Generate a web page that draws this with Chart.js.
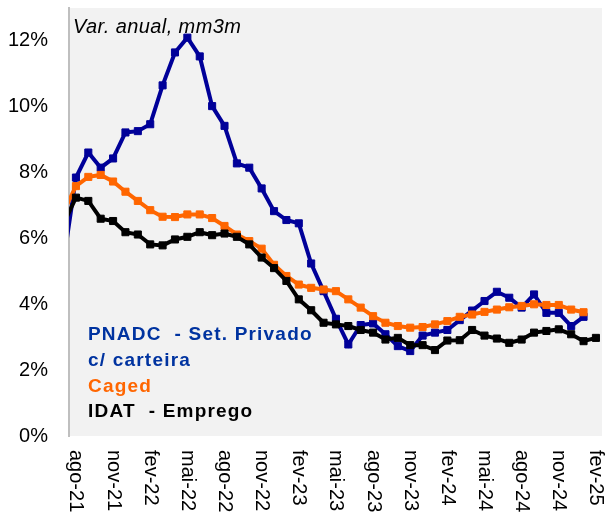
<!DOCTYPE html>
<html><head><meta charset="utf-8">
<script src="https://cdn.jsdelivr.net/npm/chart.js@4/dist/chart.umd.min.js"></script>
<style>html,body{margin:0;padding:0;background:#fff}#wrap{width:608px;height:513px;position:relative}</style>
</head><body><div id="wrap"><canvas id="c" width="608" height="513"></canvas></div>
<script>
// Months (index 0 = jul-21, partly outside the plot, as in the reference)
const months = ['jul-21','ago-21','set-21','out-21','nov-21','dez-21','jan-22','fev-22','mar-22','abr-22','mai-22','jun-22','jul-22','ago-22','set-22','out-22','nov-22','dez-22','jan-23','fev-23','mar-23','abr-23','mai-23','jun-23','jul-23','ago-23','set-23','out-23','nov-23','dez-23','jan-24','fev-24','mar-24','abr-24','mai-24','jun-24','jul-24','ago-24','set-24','out-24','nov-24','dez-24','jan-25','fev-25'];
const tickLabels = ['ago-21','nov-21','fev-22','mai-22','ago-22','nov-22','fev-23','mai-23','ago-23','nov-23','fev-24','mai-24','ago-24','nov-24','fev-25'];
const yTicks = [0,2,4,6,8,10,12];

const pnadc = [5.3,7.85,8.61,8.15,8.43,9.22,9.26,9.47,10.65,11.65,12.1,11.53,10.02,9.42,8.28,8.15,7.52,6.83,6.56,6.46,5.24,4.40,3.56,2.78,3.37,3.42,3.09,2.73,2.58,3.05,3.14,3.22,3.52,3.81,4.10,4.38,4.20,3.90,4.30,3.74,3.74,3.34,3.62,null];
const caged = [6.8,7.59,7.87,7.93,7.73,7.42,7.14,6.86,6.66,6.65,6.73,6.73,6.62,6.38,6.12,5.92,5.69,5.2,4.86,4.60,4.50,4.45,4.40,4.15,3.90,3.64,3.44,3.34,3.29,3.31,3.39,3.49,3.62,3.69,3.77,3.84,3.91,3.95,4.00,3.98,3.98,3.84,3.76,null];
const idat = [6.44,7.24,7.14,6.60,6.53,6.19,6.12,5.82,5.79,5.97,6.05,6.19,6.10,6.15,6.05,5.82,5.42,5.1,4.71,4.15,3.82,3.44,3.39,3.34,3.22,3.14,2.93,2.98,2.76,2.76,2.61,2.90,2.91,3.22,3.05,2.96,2.83,2.93,3.14,3.19,3.24,3.09,2.88,2.98];

const legendLines = [
  {text:'PNADC  - Set. Privado', color:'#0033a0'},
  {text:'c/ carteira', color:'#0033a0'},
  {text:'Caged', color:'#ff6600'},
  {text:'IDAT  - Emprego', color:'#000000'}
];
const titleText = 'Var. anual, mm3m';

const toPts = arr => arr.map((v,i)=>({x:i, y:v}));

function ds(label, arr, color){
  return {label, data: toPts(arr), borderColor: color, backgroundColor: color,
    borderWidth: 4, pointStyle: 'rect', pointRadius: 5, pointBorderWidth: 1,
    pointBorderColor: color, pointBackgroundColor: color, tension: 0, spanGaps: false};
}

const bgPlugin = {
  id:'bg',
  beforeDraw(chart){
    const {ctx, chartArea:a} = chart;
    ctx.save(); ctx.fillStyle='#f2f2f2';
    ctx.fillRect(a.left, a.top, a.right-a.left, a.bottom-a.top);
    ctx.restore();
  }
};
const textPlugin = {
  id:'texts',
  afterDraw(chart){
    const ctx = chart.ctx; const xs = chart.scales.x;
    ctx.save();
    // x labels, rotated to read top-to-bottom
    ctx.font = '20px "Liberation Sans", Arial, sans-serif';
    ctx.fillStyle = '#000';
    ctx.textAlign = 'left'; ctx.textBaseline = 'middle';
    tickLabels.forEach(lab => {
      const x = xs.getPixelForValue(months.indexOf(lab));
      ctx.save(); ctx.translate(x, 450); ctx.rotate(Math.PI/2);
      ctx.fillText(lab, 0, 0); ctx.restore();
    });
    // title
    ctx.textBaseline = 'alphabetic';
    ctx.font = 'italic 20px "Liberation Sans", Arial, sans-serif';
    try { ctx.letterSpacing = '0.4px'; } catch(e){}
    ctx.fillText(titleText, 73, 33);
    // legend
    ctx.font = 'bold 19px "Liberation Sans", Arial, sans-serif';
    try { ctx.letterSpacing = '1.2px'; } catch(e){}
    const baselines = [340, 365.5, 391.5, 417];
    legendLines.forEach((l,i)=>{ ctx.fillStyle = l.color; ctx.fillText(l.text, 88, baselines[i]); });
    ctx.restore();
  }
};

new Chart(document.getElementById('c'), {
  type:'line',
  data:{ datasets:[ ds('IDAT - Emprego', idat, '#000000'), ds('Caged', caged, '#ff6600'), ds('PNADC - Set. Privado c/ carteira', pnadc, '#000099') ] },
  options:{
    responsive:false, animation:false,
    layout:{padding:{left:0, top:8, right:3, bottom:77}},
    plugins:{legend:{display:false}, tooltip:{enabled:false}, title:{display:false}},
    scales:{
      x:{type:'linear', display:false, min:0.44, max:43.49},
      y:{type:'linear', min:0, max:13,
        grid:{display:false, drawTicks:false},
        border:{display:true, color:'#bfbfbf', width:2},
        ticks:{padding:21, color:'#000', font:{family:'"Liberation Sans", Arial, sans-serif', size:20},
          callback:v => v + '%'},
        afterBuildTicks: s => { s.ticks = yTicks.map(v=>({value:v})); },
        afterFit: s => { s.width = 69; s.paddingTop = 0; s.paddingBottom = 0; }
      }
    }
  },
  plugins:[bgPlugin, textPlugin]
});
</script>
</body></html>
